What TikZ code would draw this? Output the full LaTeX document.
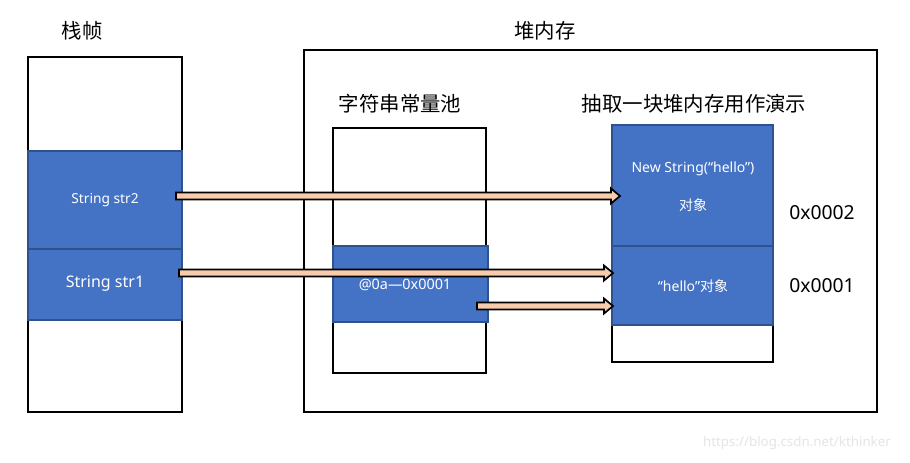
\documentclass[tikz,border=0pt]{standalone}
\usepackage{fontspec}
\setmainfont{Noto Sans}
\newfontfamily\cjk{Noto Sans CJK SC}
\usetikzlibrary{calc}
\definecolor{cellblue}{HTML}{4472C4}
\definecolor{celledge}{HTML}{2F528F}
\definecolor{peach}{HTML}{F8CBAD}
\newcommand\fatarrow[2]{%
  \draw[arrowbody] ($(#1)+(0,-3.5)$) -- ($(#2)+(-9,-3.5)$) -- ($(#2)+(-9,-7.5)$) -- (#2)
    -- ($(#2)+(-9,7.5)$) -- ($(#2)+(-9,3.5)$) -- ($(#1)+(0,3.5)$) -- cycle;}
\begin{document}
\begin{tikzpicture}[x=0.75pt,y=-0.75pt,
  box/.style={draw=black, line width=1.5pt},
  cell/.style={fill=cellblue, draw=celledge, line width=1.1pt},
  celltext/.style={text=white, font=\fontsize{10.5}{12}\selectfont},
  title/.style={font=\cjk\fontsize{15.3}{18}\selectfont},
  addr/.style={font=\fontsize{14.5}{17}\selectfont},
  arrowbody/.style={fill=peach, draw=black, line width=1.3pt, line join=miter}]
\useasboundingbox (0,0) rectangle (910,462);
\fill[white] (0,0) rectangle (910,462);

% titles
\node[title] (tstack) at (82,31) {栈帧};
\node[title] (theap) at (545,31) {堆内存};
\node[title] (tpool) at (400,104) {字符串常量池};
\node[title] (tdemo) at (694,104) {抽取一块堆内存用作演示};

% heap
\draw[box] (304,50) rectangle (877,412);

% stack frame
\draw[box] (28,57) rectangle (182,412);
\draw[cell] (28,151) rectangle (182,249);
\draw[cell] (28,249) rectangle (182,320);
\node[celltext, font=\fontsize{10.3}{12}\selectfont] (str2) at (105,200) {String str2};
\node[celltext, font=\fontsize{12}{14}\selectfont] (str1) at (105,284) {String str1};

% string pool
\draw[box] (333,128) rectangle (486,373);
\draw[cell] (333,246) rectangle (488,322);
\node[celltext, font=\fontsize{10.8}{13}\selectfont] (pool) at (405,285) {@0a—0x0001};

% heap demo
\draw[box] (612,125) rectangle (773,362);
\draw[cell] (612,125) rectangle (773,246);
\draw[cell] (612,246) rectangle (773,325);
\node[celltext] (newobj) at (693,169) {New String(“hello”)};
\node[celltext, font=\cjk\fontsize{10.5}{12}\selectfont] (newobj2) at (693,205) {对象};
\node[celltext] (litobj) at (693,286) {“hello”{\cjk 对象}};
\node[addr] (a2) at (822,213) {0x0002};
\node[addr] (a1) at (822,286) {0x0001};

% arrows
\coordinate (s1) at (176,196);
\coordinate (e1) at (620,196);
\coordinate (s2) at (179,273);
\coordinate (e2) at (613,273);
\coordinate (s3) at (477,306);
\coordinate (e3) at (613,306);
\fatarrow{s1}{e1}
\fatarrow{s2}{e2}
\fatarrow{s3}{e3}

% watermark
\node[text=black!10, font=\fontsize{10}{12}\selectfont] (wm) at (797,443) {https://blog.csdn.net/kthinker};
\end{tikzpicture}
\end{document}
